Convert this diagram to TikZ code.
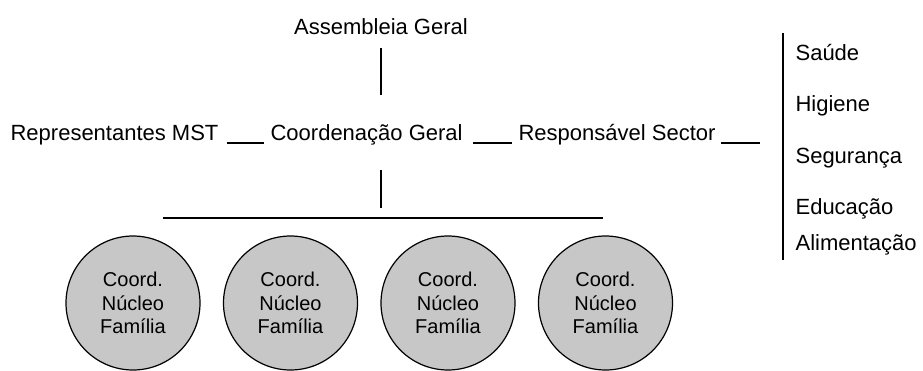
\documentclass[tikz,border=0pt]{standalone}
\usepackage{fontspec}
\setmainfont{Liberation Sans}
\usetikzlibrary{positioning,calc}
\definecolor{nucleogray}{gray}{0.78}

\begin{document}
\begin{tikzpicture}[x=1pt, y=1pt,
        lbl/.style = {font=\fontsize{22}{26}\selectfont, inner sep=0pt, anchor=base west},
        nucleo/.style = {circle, draw, fill=nucleogray, minimum size=134pt, inner sep=0pt,
                         align=center, font=\fontsize{20}{23.5}\selectfont},
        line width=1.2pt
    ]
        \useasboundingbox (0,0) rectangle (923,-370);
        \node[lbl, anchor=base] (assemb) at (381,-34) {Assembleia Geral};
        \node[lbl] (rep) at (10,-140) {Representantes MST};
        \node[lbl] (coord) at (270,-140) {Coordenação Geral};
        \node[lbl] (resp) at (518,-140) {Responsável Sector};
        \coordinate (tail) at (760,-143);
        \draw ([xshift=8pt,yshift=-3pt]rep.base east) -- ([xshift=-6pt,yshift=-3pt]coord.base west);
        \draw ([xshift=10pt,yshift=-3pt]coord.base east) -- ([xshift=-6pt,yshift=-3pt]resp.base west);
        \draw ([xshift=5pt,yshift=-3pt]resp.base east) -- (tail);
        \draw ([yshift=-14pt]assemb.base) -- ($(assemb.base |- coord.base)+(0,45)$);
        \coordinate (barL) at (163,-218);
        \coordinate (barR) at (603,-218);
        \draw ($(assemb.base |- coord.base)+(0,-30)$) -- ($(assemb.base |- barL)+(0,10)$);
        \draw[line width=1.5pt] (barL) -- (barR);
        \coordinate (sideTop) at (783,-33);
        \coordinate (sideBot) at (783,-260);
        \draw (sideTop) -- (sideBot);
        \foreach \name/\y [count=\i] in {Saúde/60, Higiene/111, Segurança/163, Educação/214, Alimentação/250}
            \node[lbl] (sec\i) at (795,-\y) {\name};
        \foreach \x [count=\i] in {133,290.5,448,605.5}
            \node[nucleo] (nuc\i) at (\x,-303) {Coord.\\Núcleo\\Família};
\end{tikzpicture}
\end{document}
